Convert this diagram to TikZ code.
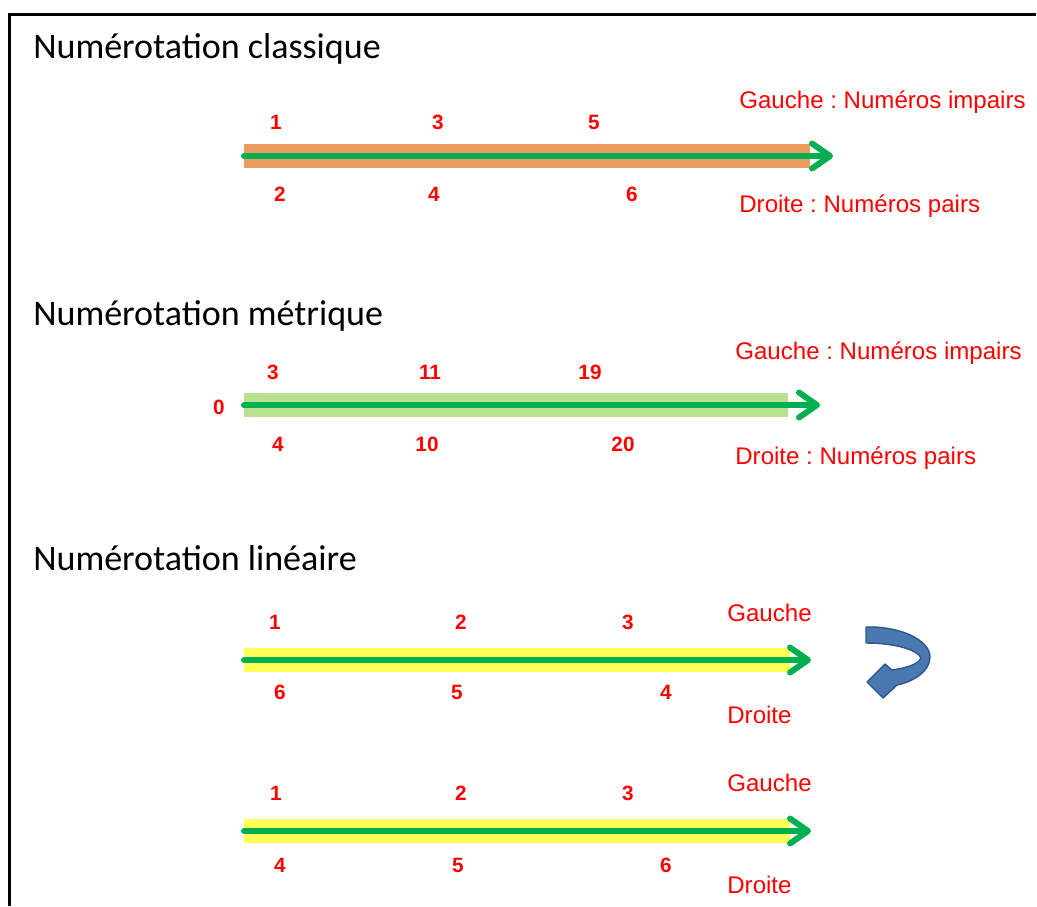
\documentclass[tikz,border=0pt]{standalone}
\usepackage{fontspec}
\setmainfont{Liberation Sans}
\newfontfamily\headfont{Carlito}
\usepackage{tikz}
\usetikzlibrary{arrows.meta,positioning}
\frenchspacing
\definecolor{streetgreen}{HTML}{00B050}
\definecolor{bandorange}{HTML}{ED9C61}
\definecolor{bandgreen}{HTML}{B9E08F}
\definecolor{bandyellow}{HTML}{FFFF55}
\definecolor{turnblue}{HTML}{4A78B0}
\definecolor{turnedge}{HTML}{2F5689}
\tikzstyle{heading} = [anchor=base west, inner sep=0pt, font=\headfont\fontsize{20.5}{24}\selectfont]
\tikzstyle{sidelabel} = [anchor=base west, inner sep=0pt, text=red, font=\fontsize{13.7}{16}\selectfont]
\tikzstyle{number} = [inner sep=0pt, text=red, font=\bfseries\fontsize{11.8}{14}\selectfont]
\tikzstyle{band} = [line width=0.48cm]
\tikzstyle{streetarrow} = [line width=0.12cm, streetgreen, line cap=round, -{Straight Barb[length=0.36cm, width=0.5cm, round]}]

\begin{document}
\begin{tikzpicture}[x=0.02cm, y=-0.02cm]

	\useasboundingbox (0,0) rectangle (1037,906);

	\draw[line width=1.5pt] (9.5,906) -- (9.5,14.5) -- (1036,14.5);



	\node (headA)[heading] at (33,58) {Numérotation classique};

	\coordinate (startA) at (244,156);
	\coordinate (bandA) at (810,156);
	\coordinate (tipA) at (833,156);

	\draw [band, bandorange] (startA) -- (bandA);
	\draw [streetarrow] (startA) -- (tipA);

	\node (oddA1)[number] at (276,122) {1};
	\node (oddA2)[number] at (438,122) {3};
	\node (oddA3)[number] at (594,122) {5};
	\node (evenA1)[number] at (280,194) {2};
	\node (evenA2)[number] at (434,194) {4};
	\node (evenA3)[number] at (632,194) {6};

	\node (leftA)[sidelabel] at (739,108) {Gauche : Numéros impairs};
	\node (rightA)[sidelabel] at (739,212) {Droite : Numéros pairs};



	\node (headB)[heading] at (33,325) {Numérotation métrique};

	\coordinate (startB) at (244,405);
	\coordinate (bandB) at (788,405);
	\coordinate (tipB) at (820,405);

	\draw [band, bandgreen] (startB) -- (bandB);
	\draw [streetarrow] (startB) -- (tipB);

	\node (zeroB)[number] at (219,407) {0};
	\node (oddB1)[number] at (273,372) {3};
	\node (oddB2)[number] at (430,372) {11};
	\node (oddB3)[number] at (590,372) {19};
	\node (evenB1)[number] at (278,444) {4};
	\node (evenB2)[number] at (427,444) {10};
	\node (evenB3)[number] at (623,444) {20};

	\node (leftB)[sidelabel] at (735,359) {Gauche : Numéros impairs};
	\node (rightB)[sidelabel] at (735,464) {Droite : Numéros pairs};



	\node (headC)[heading] at (33,570) {Numérotation linéaire};

	\coordinate (startC) at (244,660);
	\coordinate (bandC) at (790,660);
	\coordinate (tipC) at (811,660);

	\draw [band, bandyellow] (startC) -- (bandC);
	\draw [streetarrow] (startC) -- (tipC);

	\node (leftC1)[number] at (275,622) {1};
	\node (leftC2)[number] at (461,622) {2};
	\node (leftC3)[number] at (628,622) {3};
	\node (rightC1)[number] at (280,692) {6};
	\node (rightC2)[number] at (457,692) {5};
	\node (rightC3)[number] at (666,692) {4};

	\node (leftC)[sidelabel] at (727,621) {Gauche};
	\node (rightC)[sidelabel] at (727,723) {Droite};

	\draw [fill=turnblue, draw=turnedge, line width=0.8pt, line join=round]
		(866,627) .. controls (900,626) and (930,640) .. (930,657)
		.. controls (930,672) and (912,682) .. (897,685)
		-- (883,698) -- (867,682) -- (885,664) -- (892,670)
		.. controls (905,668) and (918,665) .. (921,658)
		.. controls (918,650) and (895,643) .. (866,643) -- cycle;



	\coordinate (startD) at (244,831);
	\coordinate (bandD) at (790,831);
	\coordinate (tipD) at (811,831);

	\draw [band, bandyellow] (startD) -- (bandD);
	\draw [streetarrow] (startD) -- (tipD);

	\node (leftD1)[number] at (276,793) {1};
	\node (leftD2)[number] at (461,793) {2};
	\node (leftD3)[number] at (628,793) {3};
	\node (rightD1)[number] at (280,865) {4};
	\node (rightD2)[number] at (458,865) {5};
	\node (rightD3)[number] at (666,865) {6};

	\node (leftD)[sidelabel] at (727,791) {Gauche};
	\node (rightD)[sidelabel] at (727,893) {Droite};

\end{tikzpicture}
\end{document}
